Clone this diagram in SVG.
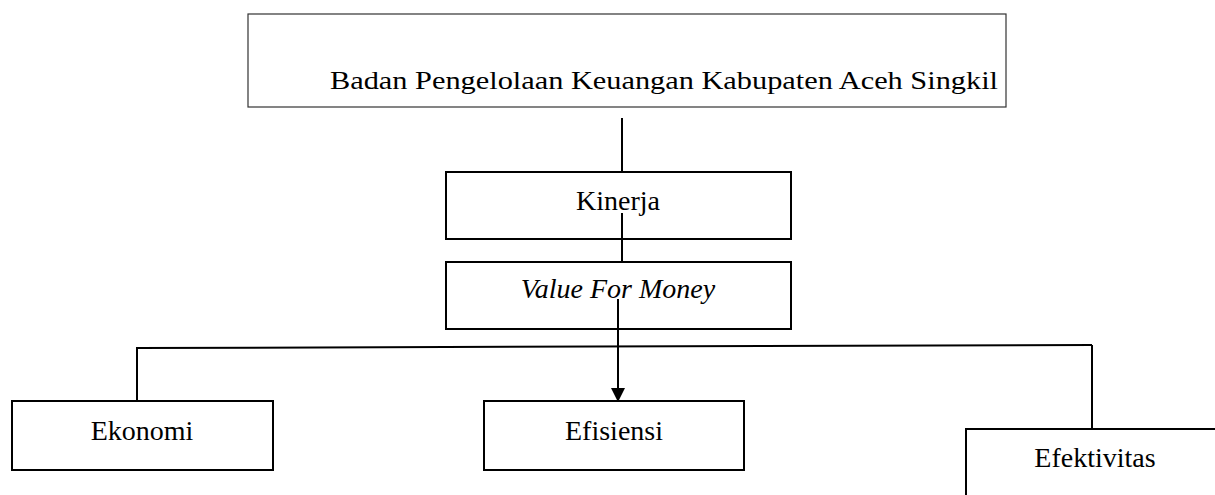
<svg xmlns="http://www.w3.org/2000/svg" width="1215" height="495" viewBox="0 0 1215 495">
<style>
.box{fill:#fff;stroke:#000;stroke-width:2}
.thin{fill:#fff;stroke:#333;stroke-width:1.2}
.ln{fill:none;stroke:#000;stroke-width:2}
.t{font-family:"Liberation Serif",serif;font-size:28px;fill:#000;text-anchor:middle}
.h{font-family:"Liberation Serif",serif;font-size:26px;fill:#000}
</style>
<defs>
<marker id="arr" markerWidth="8" markerHeight="7" refX="8" refY="3.5" orient="auto" markerUnits="userSpaceOnUse">
<path d="M0,0 L8,3.5 L0,7 z" fill="#000"/>
</marker>
<marker id="arrow" viewBox="0 0 16 14" markerWidth="16" markerHeight="14" refX="14" refY="7" orient="auto" markerUnits="userSpaceOnUse">
<path d="M0,0 L14,7 L0,14 z" fill="#000"/>
</marker>
</defs>
<g id="node-badan">
<rect class="thin" x="248" y="14" width="758" height="93"/>
<text class="h" x="330" y="89" textLength="668" lengthAdjust="spacingAndGlyphs">Badan Pengelolaan Keuangan Kabupaten Aceh Singkil</text>
</g>
<g id="node-kinerja">
<rect class="box" x="446" y="172" width="345" height="67"/>
<text class="t" x="618" y="210">Kinerja</text>
</g>
<g id="node-vfm">
<rect class="box" x="446" y="262" width="345" height="67"/>
<text class="t" x="618" y="298" font-style="italic">Value For Money</text>
</g>
<g id="node-ekonomi">
<rect class="box" x="12" y="401" width="261" height="69"/>
<text class="t" x="142" y="440">Ekonomi</text>
</g>
<g id="node-efisiensi">
<rect class="box" x="484" y="401" width="260" height="69"/>
<text class="t" x="614" y="440">Efisiensi</text>
</g>
<g id="node-efektivitas">
<path class="ln" d="M966,496 L966,429 L1216,429"/>
<text class="t" x="1095" y="467">Efektivitas</text>
</g>
<g id="connectors">
<line class="ln" x1="622" y1="118" x2="622" y2="172"/>
<line class="ln" x1="622" y1="213" x2="622" y2="262"/>
<line class="ln" x1="618" y1="299" x2="618" y2="402" marker-end="url(#arrow)"/>
<line class="ln" x1="137" y1="348" x2="1092" y2="345" stroke-width="1.5"/>
<line class="ln" x1="137" y1="347" x2="137" y2="401"/>
<line class="ln" x1="1092" y1="345" x2="1092" y2="429"/>
</g>
</svg>
